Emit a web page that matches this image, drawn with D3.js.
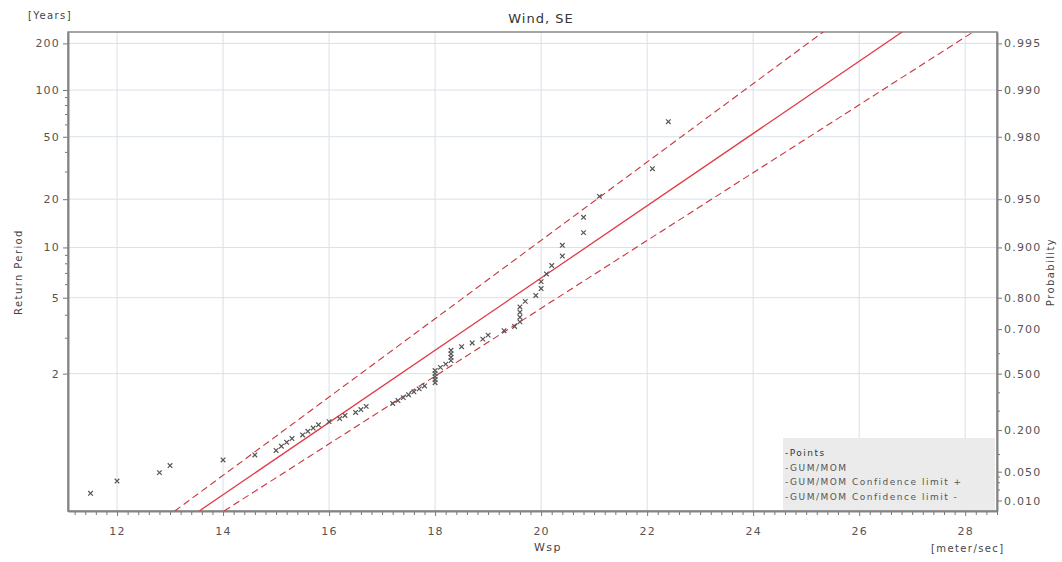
<!DOCTYPE html>
<html>
<head>
<meta charset="utf-8">
<script src="https://cdn.jsdelivr.net/npm/d3@7"></script>
<style>
  body { margin: 0; background: #fff; }
  svg { font-family: "DejaVu Sans", Verdana, sans-serif; }
</style>
</head>
<body>
<svg id="chart" width="1062" height="562"></svg>
<script>
/* ---------- data ---------- */
// observed wind speeds (sorted) and their plotting probability
const pointWsp = [11.5, 12.0, 12.8, 13.0, 14.0, 14.6, 15.0, 15.1, 15.2, 15.3,
  15.5, 15.6, 15.7, 15.8, 16.0, 16.2, 16.3, 16.5, 16.6, 16.7,
  17.2, 17.3, 17.4, 17.5, 17.6, 17.7, 17.8, 18.0, 18.0, 18.0,
  18.0, 18.0, 18.1, 18.2, 18.3, 18.3, 18.3, 18.3, 18.5, 18.7,
  18.9, 19.0, 19.3, 19.5, 19.6, 19.6, 19.6, 19.6, 19.7, 19.9,
  20.0, 20.0, 20.1, 20.2, 20.4, 20.4, 20.8, 20.8, 21.1, 22.1, 22.4];
const pointProb = [0.016, 0.032, 0.048, 0.065, 0.081, 0.097, 0.113, 0.129, 0.145, 0.161,
  0.177, 0.194, 0.210, 0.226, 0.242, 0.258, 0.274, 0.290, 0.306, 0.323,
  0.339, 0.355, 0.371, 0.387, 0.403, 0.419, 0.435, 0.452, 0.468, 0.484,
  0.500, 0.516, 0.532, 0.548, 0.565, 0.581, 0.597, 0.613, 0.629, 0.645,
  0.661, 0.677, 0.694, 0.710, 0.726, 0.742, 0.758, 0.774, 0.790, 0.806,
  0.823, 0.839, 0.855, 0.871, 0.887, 0.903, 0.919, 0.935, 0.952, 0.968, 0.984];

// fitted GUM/MOM line and confidence limits at the bottom/top of the plot
const lineProb  = [0.00458, 0.99578];
const fitWsp    = [13.55, 26.81];
const upperWsp  = [13.09, 25.32];
const lowerWsp  = [14.02, 28.15];

const xTicks      = [12, 14, 16, 18, 20, 22, 24, 26, 28];
const periodTicks = [2, 5, 10, 20, 50, 100, 200];
const periodMinor = [3, 4, 6, 7, 8, 9, 30, 40, 60, 70, 80, 90];
const probTicks   = [0.010, 0.050, 0.200, 0.500, 0.700, 0.800, 0.900, 0.950, 0.980, 0.990, 0.995];
const probMinor   = [0.02, 0.03, 0.04, 0.1, 0.3, 0.4, 0.6];
const legendItems = ["-Points", "-GUM/MOM", "-GUM/MOM Confidence limit +", "-GUM/MOM Confidence limit -"];

/* ---------- setup ---------- */
const svg = d3.select("#chart");
const plot = { left: 68, right: 997, top: 32, bottom: 511 };

// gumbel reduced variate
const gv = p => -Math.log(-Math.log(p));
const gvT = T => gv(1 - 1 / T);

const x = d3.scaleLinear().domain([11.075, 28.6]).range([plot.left, plot.right]);
const yv = d3.scaleLinear().domain([gv(lineProb[0]), gv(lineProb[1])]).range([plot.bottom, plot.top]);
const y = p => yv(gv(p));

svg.append("defs").append("clipPath").attr("id", "clip")
  .append("rect")
  .attr("x", plot.left).attr("y", plot.top)
  .attr("width", plot.right - plot.left).attr("height", plot.bottom - plot.top);

/* ---------- grid ---------- */
const grid = svg.append("g");
grid.selectAll("line.v").data(xTicks).enter().append("line")
  .attr("x1", d => x(d)).attr("x2", d => x(d))
  .attr("y1", plot.top).attr("y2", plot.bottom)
  .attr("stroke", "#d8e1e8").attr("stroke-width", 1);
grid.selectAll("line.h").data(periodTicks).enter().append("line")
  .attr("x1", plot.left).attr("x2", plot.right)
  .attr("y1", d => yv(gvT(d))).attr("y2", d => yv(gvT(d)))
  .attr("stroke", "#d8e1e8").attr("stroke-width", 1);

/* ---------- axes ---------- */
function styleAxis(g) {
  g.attr("font-family", null);
  g.select(".domain").attr("stroke", "#777").attr("stroke-width", 1.5);
  g.selectAll(".tick line").attr("stroke", "#777");
  g.selectAll(".tick text").attr("fill", "#555").attr("font-size", 11)
    .attr("letter-spacing", 1.2);
}

const minorX = d3.range(112, 287, 2).map(d => d / 10).filter(d => d % 2 !== 0);
svg.append("g").attr("transform", `translate(0,${plot.bottom})`)
  .call(d3.axisBottom(x).tickValues(minorX).tickSize(4).tickFormat("").tickSizeOuter(0))
  .call(styleAxis);
svg.append("g").attr("transform", `translate(0,${plot.bottom})`)
  .call(d3.axisBottom(x).tickValues(xTicks).tickSize(5).tickPadding(11).tickSizeOuter(0))
  .call(styleAxis);

svg.append("g").attr("transform", `translate(${plot.left},0)`)
  .call(d3.axisLeft(yv).tickValues(periodMinor.map(gvT)).tickSize(3).tickFormat("").tickSizeOuter(0))
  .call(styleAxis);
svg.append("g").attr("transform", `translate(${plot.left},0)`)
  .call(d3.axisLeft(yv).tickValues(periodTicks.map(gvT)).tickSize(5).tickPadding(3).tickSizeOuter(0)
    .tickFormat((d, i) => periodTicks[i]))
  .call(styleAxis);

svg.append("g").attr("transform", `translate(${plot.right},0)`)
  .call(d3.axisRight(yv).tickValues(probMinor.map(gv)).tickSize(3).tickFormat("").tickSizeOuter(0))
  .call(styleAxis);
svg.append("g").attr("transform", `translate(${plot.right},0)`)
  .call(d3.axisRight(yv).tickValues(probTicks.map(gv)).tickSize(5).tickPadding(2).tickSizeOuter(0)
    .tickFormat((d, i) => d3.format(".3f")(probTicks[i])))
  .call(styleAxis);

// frame
svg.append("rect")
  .attr("x", plot.left).attr("y", plot.top)
  .attr("width", plot.right - plot.left).attr("height", plot.bottom - plot.top)
  .attr("fill", "none").attr("stroke", "#888").attr("stroke-width", 1.5);

/* ---------- lines ---------- */
const lineLayer = svg.append("g").attr("clip-path", "url(#clip)");
const line = d3.line().x(d => x(d.w)).y(d => y(d.p));
const series = [
  { vals: upperWsp, dash: "7,4", color: "#c9343c", w: 1.1 },
  { vals: lowerWsp, dash: "7,4", color: "#c9343c", w: 1.1 },
  { vals: fitWsp,   dash: null,  color: "#e23b45", w: 1.3 }
];
series.forEach(s => {
  lineLayer.append("path")
    .datum(lineProb.map((p, i) => ({ p, w: s.vals[i] })))
    .attr("d", line)
    .attr("fill", "none")
    .attr("stroke", s.color)
    .attr("stroke-width", s.w)
    .attr("stroke-dasharray", s.dash);
});

/* ---------- points ---------- */
const pts = pointWsp.map((w, i) => ({ w, p: pointProb[i] }));
const ptLayer = svg.append("g").attr("clip-path", "url(#clip)");
ptLayer.selectAll("path").data(pts).enter().append("path")
  .attr("d", d => {
    const cx = x(d.w), cy = y(d.p), r = 2.3;
    return `M${cx - r},${cy - r}L${cx + r},${cy + r}M${cx - r},${cy + r}L${cx + r},${cy - r}`;
  })
  .attr("stroke", "#555").attr("stroke-width", 1.2).attr("fill", "none");

/* ---------- legend ---------- */
const legend = svg.append("g").attr("transform", "translate(783,438)");
legend.append("rect").attr("width", 212).attr("height", 72).attr("fill", "#ebebeb");
legend.selectAll("text").data(legendItems).enter().append("text")
  .attr("x", 2).attr("y", (d, i) => 18 + i * 14.7)
  .attr("font-size", 9).attr("letter-spacing", 1.5)
  .attr("fill", (d, i) => i === 0 ? "#333" : "#555")
  .text(d => d);

/* ---------- labels ---------- */
svg.append("text").attr("x", 541).attr("y", 23)
  .attr("text-anchor", "middle").attr("font-size", 13).attr("letter-spacing", 1)
  .attr("fill", "#333")
  .text("Wind, SE");
svg.append("text").attr("x", 28).attr("y", 19)
  .attr("font-size", 10).attr("letter-spacing", 1.4).attr("fill", "#444").text("[Years]");
svg.append("text").attr("transform", "translate(22,272) rotate(-90)")
  .attr("text-anchor", "middle").attr("font-size", 10).attr("letter-spacing", 1.4)
  .attr("fill", "#444")
  .text("Return Period");
svg.append("text").attr("transform", "translate(1054,272) rotate(-90)")
  .attr("text-anchor", "middle").attr("font-size", 10).attr("letter-spacing", 1.4)
  .attr("fill", "#444")
  .text("Probability");
svg.append("text").attr("x", 534).attr("y", 551)
  .attr("font-size", 11).attr("letter-spacing", 1.4).attr("fill", "#444")
  .attr("text-anchor", "start")
  .text("Wsp");
svg.append("text").attr("x", 931).attr("y", 552)
  .attr("font-size", 10).attr("letter-spacing", 1.4).attr("fill", "#444")
  .text("[meter/sec]");
</script>
</body>
</html>
